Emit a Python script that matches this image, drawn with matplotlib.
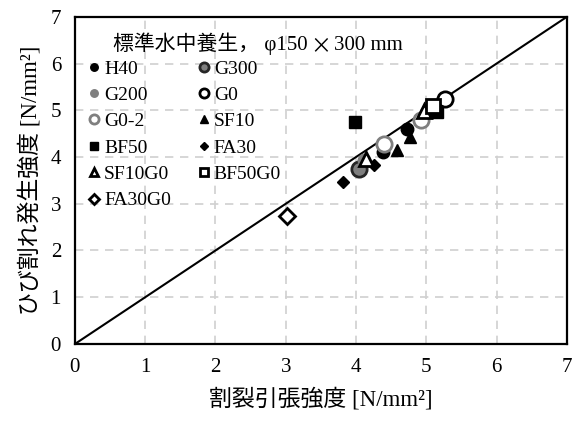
import matplotlib

matplotlib.use("Agg")
import matplotlib.pyplot as plt

plt.rcParams["font.family"] = ["Liberation Serif", "Noto Sans CJK JP"]

# splitting tensile strength (x) vs cracking strength (y)
labels = ["H40", "G300", "G200", "G0", "G0-2", "SF10", "BF50", "FA30",
          "SF10G0", "BF50G0", "FA30G0"]
xs = [
    [4.38, 4.73],   # H40
    [4.04],         # G300
    [4.12],         # G200
    [5.27],         # G0
    [4.40, 4.92],   # G0-2
    [4.58, 4.77],   # SF10
    [3.99, 5.15],   # BF50
    [3.82, 4.25],   # FA30
    [4.14, 4.97],   # SF10G0
    [5.09],         # BF50G0
    [3.02],         # FA30G0
]
ys = [
    [4.10, 4.60],
    [3.74],
    [3.93],
    [5.24],
    [4.27, 4.79],
    [4.16, 4.42],
    [4.75, 4.97],
    [3.47, 3.84],
    [3.96, 4.99],
    [5.10],
    [2.74],
]

GRAY = "#7f7f7f"
styles = {
    "H40": dict(marker="o", ms=9, mfc="black", mec="black", mew=1),
    "G300": dict(marker="o", ms=11, mfc=GRAY, mec="#262626", mew=2),
    "G200": dict(marker="o", ms=9, mfc=GRAY, mec=GRAY, mew=1),
    "G0": dict(marker="o", ms=11, mfc="white", mec="black", mew=2),
    "G0-2": dict(marker="o", ms=11, mfc="white", mec=GRAY, mew=2),
    "SF10": dict(marker="^", ms=9, mfc="black", mec="black", mew=1),
    "BF50": dict(marker="s", ms=9, mfc="black", mec="black", mew=1),
    "FA30": dict(marker="D", ms=6.5, mfc="black", mec="black", mew=1),
    "SF10G0": dict(marker="^", ms=10, mfc="white", mec="black", mew=2),
    "BF50G0": dict(marker="s", ms=10, mfc="white", mec="black", mew=2),
    "FA30G0": dict(marker="D", ms=8, mfc="white", mec="black", mew=2),
}

fig = plt.figure(figsize=(5.72, 4.21), dpi=100)
ax = fig.add_axes([0.131, 0.183, 0.86, 0.777])

ax.plot([0, 7], [0, 7], color="black", lw=1.5, zorder=2)

handles = {}
for name, x, y in zip(labels, xs, ys):
    handles[name], = ax.plot(x, y, ls="none", label=name, zorder=3, **styles[name])

ax.set_xlim(0, 7)
ax.set_ylim(0, 7)
ax.set_xticks(range(8))
ax.set_yticks(range(8))
ax.tick_params(length=0, labelsize=15, pad=10)
ax.grid(True, color="#d0d0d0", ls=(0, (5, 4)), lw=1.2, zorder=0)
for s in ax.spines.values():
    s.set_linewidth(1.6)

ax.set_xlabel("割裂引張強度 [N/mm²]", fontsize=16.5, labelpad=8)
ax.set_ylabel("ひび割れ発生強度 [N/mm²]", fontsize=16.5, labelpad=6)

# legend heading, split so the × comes from the Japanese font (full width)
t1 = ax.text(0.077, 0.925, "標準水中養生， φ150", transform=ax.transAxes,
             fontsize=15, va="center_baseline", ha="left")
t2 = ax.annotate("×", xy=(1, 0.5), xycoords=t1, xytext=(2, -1.5),
                 textcoords="offset points", fontsize=15,
                 va="center", ha="left", family="Noto Sans CJK JP")
ax.annotate("300 mm", xy=(1, 0.5), xycoords=t2, xytext=(2, 0),
            textcoords="offset points", fontsize=15, va="center", ha="left")

# legend filled column-wise, so list column 1 first then column 2
order = ["H40", "G200", "G0-2", "BF50", "SF10G0", "FA30G0",
         "G300", "G0", "SF10", "FA30", "BF50G0"]
ax.legend([handles[n] for n in order], order, ncol=2, loc="upper left",
          bbox_to_anchor=(0.0, 0.91), fontsize=14, frameon=False,
          markerscale=0.6, handlelength=0.6, handletextpad=0.2,
          columnspacing=1.4, labelspacing=0.45, borderpad=0.2)

fig.savefig("out.png", dpi=100)
